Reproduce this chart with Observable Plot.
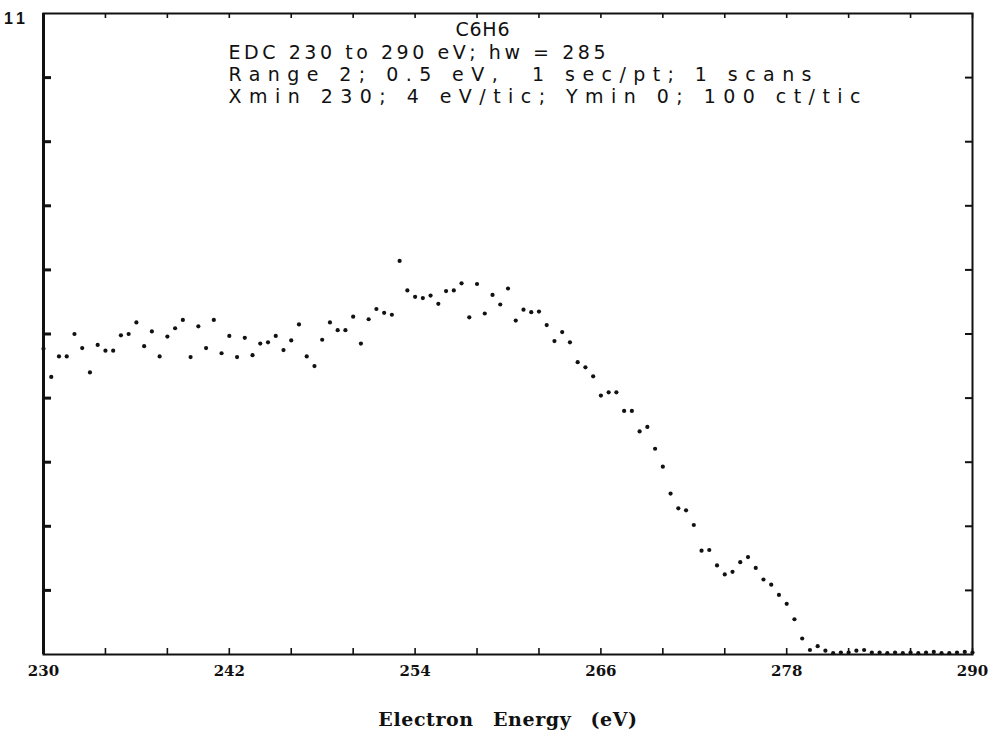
<!DOCTYPE html>
<html><head><meta charset="utf-8">
<script src="https://cdn.jsdelivr.net/npm/d3@7"></script>
<script src="https://cdn.jsdelivr.net/npm/@observablehq/plot@0.6"></script>
<style>
html,body{margin:0;padding:0;background:#fff;}
#chart svg{display:block;}
</style>
</head><body><div id="chart"></div>
<script>
// ---- data ----
const energy = [
  230,230.5,231,231.5,232,232.5,233,233.5,234,234.5,
  235,235.5,236,236.5,237,237.5,238,238.5,239,239.5,
  240,240.5,241,241.5,242,242.5,243,243.5,244,244.5,
  245,245.5,246,246.5,247,247.5,248,248.5,249,249.5,
  250,250.5,251,251.5,252,252.5,253,253.5,254,254.5,
  255,255.5,256,256.5,257,257.5,258,258.5,259,259.5,
  260,260.5,261,261.5,262,262.5,263,263.5,264,264.5,
  265,265.5,266,266.5,267,267.5,268,268.5,269,269.5,
  270,270.5,271,271.5,272,272.5,273,273.5,274,274.5,
  275,275.5,276,276.5,277,277.5,278,278.5,279,279.5,
  280,280.5,281,281.5,282,282.5,283,283.5,284,284.5,
  285,285.5,286,286.5,287,287.5,288,288.5,289,289.5,
  290
];
const counts = [
  477,433,465,465,500,478,440,483,474,474,
  498,500,518,481,504,465,496,509,522,464,
  512,478,522,470,497,464,494,467,485,487,
  497,475,490,515,465,450,491,518,506,506,
  527,485,523,539,533,530,614,568,558,556,
  560,547,567,568,579,526,578,532,561,546,
  571,521,538,534,535,514,489,503,487,456,
  448,434,404,409,409,380,380,348,355,321,
  293,251,228,225,202,162,163,139,125,129,
  144,152,135,117,109,93,79,55,25,7,
  13,6,2,3,3,6,7,3,3,2,
  3,2,3,2,3,4,2,2,3,4,
  3
];
const xTickValues = [230,234,238,242,246,250,254,258,262,266,270,274,278,282,286,290];
const xLabelValues = [230,242,254,266,278,290];
const yTickValues = [100,200,300,400,500,600,700,800,900];
const titleText = "C6H6";
const infoLines = [
  "EDC 230 to 290 eV; hw = 285",
  "Range 2; 0.5 eV,  1 sec/pt; 1 scans",
  "Xmin 230; 4 eV/tic; Ymin 0; 100 ct/tic"
];
const xAxisLabel = "Electron Energy (eV)";
const cornerMark = "11";

// ---- chart ----
const rows = energy.map((e, i) => ({e, c: counts[i]}));
const W = 990, H = 738, mL = 43, mR = 18, mT = 13, mB = 84;
const fw = W - mL - mR, fh = H - mT - mB;
const ink = "#111";
const headFont = "DejaVu Sans";
const serif = "DejaVu Serif";

const marks = [
  Plot.tickX(xTickValues, {x: d => d, insetTop: fh - 6, stroke: ink, strokeWidth: 1.6}),
  Plot.tickX(xTickValues, {x: d => d, insetBottom: fh - 5, stroke: ink, strokeWidth: 1.6}),
  Plot.tickY(yTickValues, {y: d => d, insetRight: fw - 8, stroke: ink, strokeWidth: 3}),
  Plot.tickY(yTickValues, {y: d => d, insetLeft: fw - 7, stroke: ink, strokeWidth: 2}),
  Plot.frame({stroke: ink, strokeWidth: 2}),
  Plot.ruleX([230], {stroke: ink, strokeWidth: 3}),
  Plot.axisX({ticks: xLabelValues, anchor: "bottom", tickSize: 0, tickPadding: 11, label: null,
    fontFamily: serif, fontWeight: "bold", fontSize: 15, fill: ink}),
  Plot.dot(rows, {x: "e", y: "c", r: 2.1, fill: ink, stroke: "none"}),
  Plot.text([titleText], {frameAnchor: "top-left", dx: 412, dy: 9, lineAnchor: "top", textAnchor: "start",
    fontFamily: headFont, fontSize: 19, fill: ink}),
  ...infoLines.map((t, i) => Plot.text([t], {frameAnchor: "top-left", dx: 185, dy: 32 + 22 * i,
    lineAnchor: "top", textAnchor: "start", fontFamily: headFont, fontSize: 19, fill: ink})),
  Plot.text([xAxisLabel], {frameAnchor: "bottom", dy: 58, lineAnchor: "top", textAnchor: "middle",
    fontFamily: serif, fontWeight: "bold", fontSize: 19, fill: ink}),
  Plot.text([cornerMark], {frameAnchor: "top-left", dx: -27, dy: -1, lineAnchor: "top", textAnchor: "middle",
    fontFamily: "Liberation Sans", fontWeight: "bold", fontSize: 16, fill: ink})
];

const chart = Plot.plot({
  width: W, height: H,
  marginLeft: mL, marginRight: mR, marginTop: mT, marginBottom: mB,
  style: {background: "#fff", color: ink, overflow: "visible"},
  x: {domain: [230, 290]},
  y: {domain: [0, 1000], axis: null},
  marks
});

// stretch header text to the plotter's wide letter spacing
const widths = new Map([
  [titleText, 54], [infoLines[0], 377], [infoLines[1], 583], [infoLines[2], 632]
]);
chart.querySelectorAll("text").forEach(t => {
  const s = t.textContent;
  const w = widths.get(s);
  if (w) {
    t.setAttribute("textLength", w);
    t.setAttribute("lengthAdjust", "spacing");
  }
  if (s === xAxisLabel) { t.style.wordSpacing = "12px"; t.style.letterSpacing = "0.6px"; }
  if (s === cornerMark) t.style.letterSpacing = "4px";
});
document.getElementById("chart").appendChild(chart);
</script>
</body></html>
